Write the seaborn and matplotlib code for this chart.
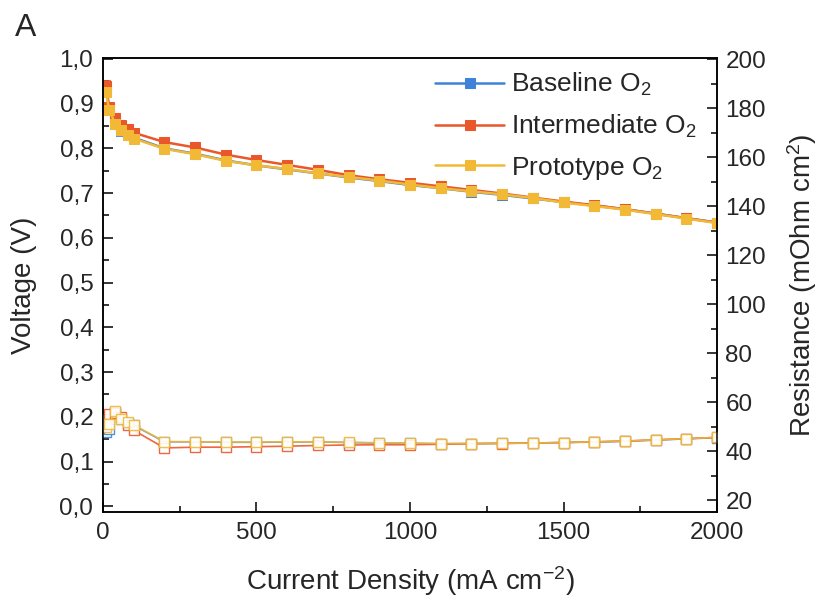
import seaborn as sns
import matplotlib
matplotlib.use("Agg")
import matplotlib.pyplot as plt
from matplotlib.ticker import MultipleLocator, FuncFormatter

# current density (mA cm-2)
current = [10, 20, 40, 60, 80, 100, 200, 300, 400, 500, 600, 700, 800, 900, 1000,
           1100, 1200, 1300, 1400, 1500, 1600, 1700, 1800, 1900, 2000]

# voltage (V)
v_base = [0.930, 0.888, 0.858, 0.842, 0.834, 0.824, 0.800, 0.788, 0.773, 0.762, 0.753, 0.744, 0.735,
          0.727, 0.718, 0.711, 0.703, 0.696, 0.688, 0.680, 0.672, 0.664, 0.654, 0.644, 0.634]
v_inter = [0.940, 0.893, 0.868, 0.852, 0.843, 0.835, 0.814, 0.802, 0.786, 0.774, 0.763, 0.752, 0.740,
           0.731, 0.723, 0.715, 0.707, 0.699, 0.690, 0.681, 0.673, 0.664, 0.654, 0.644, 0.634]
v_proto = [0.925, 0.886, 0.855, 0.840, 0.830, 0.822, 0.799, 0.787, 0.772, 0.762, 0.754, 0.744, 0.736,
           0.728, 0.719, 0.711, 0.704, 0.697, 0.689, 0.679, 0.671, 0.663, 0.653, 0.643, 0.633]

# voltage error bars
e_base = [0.012, 0.010, 0.015, 0.015, 0.015, 0.012, 0.008, 0.006, 0.005, 0.005, 0.004, 0.004, 0.004,
          0.004, 0.003, 0.003, 0.003, 0.003, 0.003, 0.003, 0.003, 0.003, 0.003, 0.003, 0.003]
e_inter = [0.010, 0.008, 0.008, 0.007, 0.007, 0.006, 0.005, 0.005, 0.004, 0.004, 0.004, 0.004, 0.003,
           0.003, 0.003, 0.003, 0.003, 0.003, 0.003, 0.003, 0.003, 0.003, 0.003, 0.003, 0.003]
e_proto = [0.008, 0.008, 0.008, 0.008, 0.008, 0.007, 0.006, 0.005, 0.004, 0.004, 0.004, 0.003, 0.003,
           0.003, 0.003, 0.003, 0.003, 0.003, 0.003, 0.003, 0.003, 0.003, 0.003, 0.003, 0.003]

# resistance (mOhm cm2)
r_base = [48.0, 49.0, 56.0, 53.0, 51.5, 50.5, 43.8, 43.8, 43.6, 43.6, 43.7, 43.8, 43.5,
          43.3, 43.2, 43.0, 43.1, 43.2, 43.3, 43.5, 43.7, 44.0, 44.5, 45.0, 45.5]
r_inter = [53.0, 55.0, 55.5, 54.0, 50.5, 48.5, 41.3, 41.6, 41.6, 41.8, 42.0, 42.3, 42.5,
           42.6, 42.6, 42.8, 43.0, 43.1, 43.3, 43.5, 43.8, 44.1, 44.6, 45.1, 45.6]
r_proto = [50.0, 51.0, 56.5, 53.0, 51.8, 50.7, 43.9, 43.8, 43.7, 43.7, 43.8, 43.8, 43.6,
           43.4, 43.2, 43.1, 43.1, 43.2, 43.3, 43.5, 43.8, 44.1, 44.6, 45.1, 45.6]

labels = ["Baseline O$_2$", "Intermediate O$_2$", "Prototype O$_2$"]
colors = ["#3F83D8", "#E9572B", "#F1B935"]

sns.set_theme(style="ticks")
plt.rcParams['font.family'] = ['Liberation Sans', 'DejaVu Sans']
plt.rcParams['mathtext.default'] = 'regular'

fig = plt.figure(figsize=(8.2, 6.01), dpi=100)
ax = fig.add_axes([0.1256, 0.148, 0.7488, 0.7555])
ax2 = ax.twinx()

volts = [v_base, v_inter, v_proto]
errs = [e_base, e_inter, e_proto]
res = [r_base, r_inter, r_proto]

for v, e, c, lab in zip(volts, errs, colors, labels):
    ax.errorbar(current, v, yerr=e, fmt='none', ecolor=c, elinewidth=1.2, capsize=3.5, capthick=1.2)
    sns.lineplot(x=current, y=v, ax=ax, color=c, marker='s', markersize=7,
                 markeredgecolor=c, linewidth=1.8, label=lab)

for r, c in zip(res, colors):
    sns.lineplot(x=current, y=r, ax=ax2, color=c, marker='s', markersize=7.5,
                 markerfacecolor='white', markeredgecolor=c, markeredgewidth=1.0,
                 linewidth=1.2, alpha=0.9, legend=False)

ax.set_xlim(0, 2000)
ax.set_ylim(-0.013, 1.002)
ax2.set_ylim(15.1, 200.6)

ax.xaxis.set_major_locator(MultipleLocator(500))
ax.xaxis.set_minor_locator(MultipleLocator(250))
ax.yaxis.set_major_locator(MultipleLocator(0.1))
ax.yaxis.set_minor_locator(MultipleLocator(0.05))
ax.yaxis.set_major_formatter(FuncFormatter(lambda v, p: f"{v:.1f}".replace('.', ',')))
ax2.yaxis.set_major_locator(MultipleLocator(20))
ax2.yaxis.set_minor_locator(MultipleLocator(10))

for a in (ax, ax2):
    a.tick_params(which='major', direction='in', length=7, width=1.1, labelsize=17.5, color='black')
    a.tick_params(which='minor', direction='in', length=4, width=1.1, color='black')
    for s in a.spines.values():
        s.set_linewidth(1.1)
        s.set_color('black')
ax.tick_params(axis='both', pad=7)
ax2.tick_params(axis='y', pad=6)

ax.set_xlabel("Current Density (mA cm$^{-2}$)", fontsize=20, labelpad=15)
ax.set_ylabel("Voltage (V)", fontsize=20, labelpad=16)
ax2.set_ylabel("Resistance (mOhm cm$^{2}$)", fontsize=20, labelpad=14)

ax.legend(loc='upper left', bbox_to_anchor=(0.52, 1.0), frameon=False, fontsize=19,
          handlelength=2.6, handletextpad=0.27, labelspacing=0.55, borderaxespad=0.1)

fig.text(0.018, 0.94, "A", fontsize=23)

fig.savefig("out.png", dpi=100)
